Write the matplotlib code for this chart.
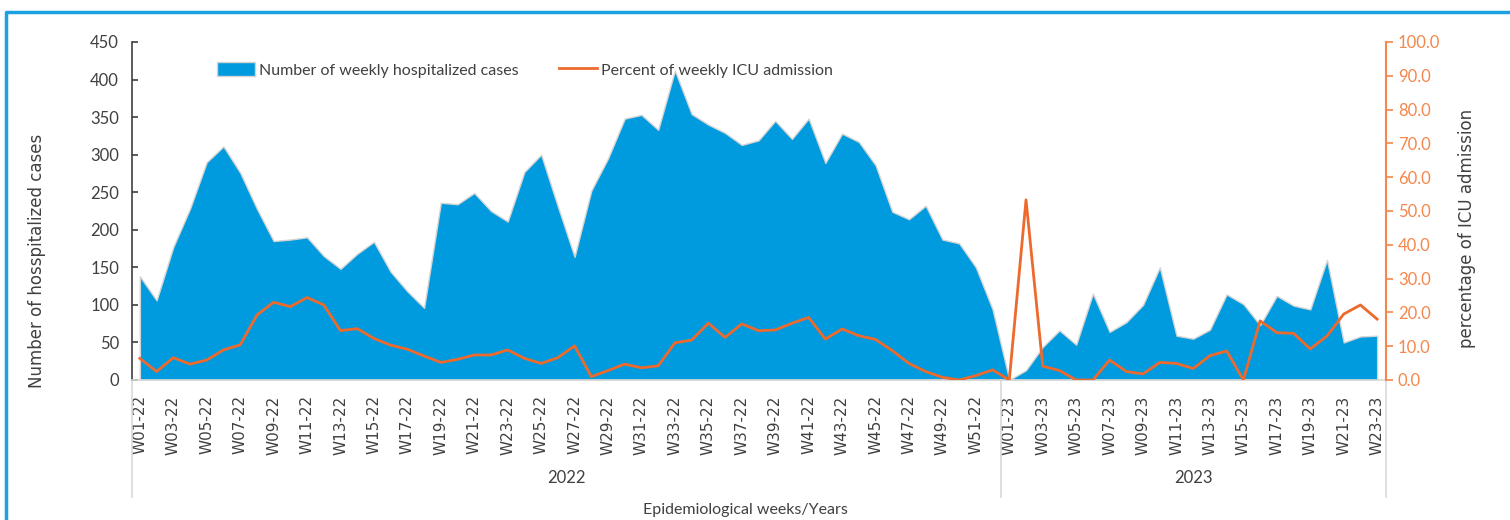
import matplotlib
matplotlib.use("Agg")
import matplotlib.pyplot as plt
import matplotlib.transforms as mtransforms
from matplotlib.lines import Line2D
from matplotlib.ticker import FormatStrFormatter
import numpy as np

# epidemiological weeks, 2022 (52) + 2023 (23)
years = ["2022", "2023"]
weeks_per_year = [52, 23]
week_labels = ([f"W{w:02d}-22" for w in range(1, 53)] +
               [f"W{w:02d}-23" for w in range(1, 24)])

hosp_2022 = [138, 106, 177, 228, 290, 311, 276, 228, 185, 187, 190, 165, 148,
             168, 184, 144, 118, 96, 236, 234, 249, 225, 211, 277, 300, 231,
             164, 252, 295, 348, 353, 333, 412, 354, 340, 329, 313, 319, 345,
             321, 348, 289, 328, 317, 286, 224, 214, 232, 187, 182, 150, 94]
hosp_2023 = [0, 13, 44, 66, 47, 115, 64, 77, 100, 150, 59, 55, 67, 114, 101,
             73, 112, 99, 94, 160, 50, 58, 59]

icu_2022 = [6.4, 2.5, 6.6, 4.7, 5.9, 8.9, 10.4, 19.2, 23.0, 21.7, 24.4, 22.2,
            14.6, 15.2, 12.3, 10.3, 9.1, 7.1, 5.2, 6.1, 7.4, 7.4, 8.9, 6.4,
            4.9, 6.6, 10.1, 1.0, 2.8, 4.7, 3.6, 4.2, 11.0, 11.8, 16.8, 12.6,
            16.6, 14.6, 14.8, 16.8, 18.5, 12.1, 15.1, 13.1, 12.0, 8.7, 4.9,
            2.5, 0.8, 0.0, 1.3, 3.0]
icu_2023 = [0.0, 53.3, 4.1, 2.8, 0.0, 0.0, 5.9, 2.5, 1.8, 5.2, 4.9, 3.4, 7.2,
            8.6, 0.0, 17.5, 14.0, 13.8, 9.2, 13.0, 19.5, 22.2, 18.0]

hosp = np.array(hosp_2022 + hosp_2023)
icu = np.array(icu_2022 + icu_2023)
x = np.arange(len(week_labels))

BLUE = "#009BDE"
ORANGE = "#EE6A2C"
AXIS_OR = "#F4874B"
GREY = "#404040"
NARROW = ["Lato", "DejaVu Sans"]

fig = plt.figure(figsize=(15.1, 5.2), dpi=100)
ax = fig.add_axes([131.5 / 1510, 140 / 520, 1254 / 1510, 338 / 520])
ax2 = ax.twinx()

ax.fill_between(x, hosp, 0, facecolor=BLUE, edgecolor="#d4d4d4", lw=1.0,
                label="Number of weekly hospitalized cases", zorder=2)
ax2.plot(x, icu, color=ORANGE, lw=2.0, label="Percent of weekly ICU admission",
         zorder=3)

ax.set_xlim(-0.5, len(x) - 0.5)
ax.set_ylim(0, 450)
ax.set_yticks(np.arange(0, 451, 50))
ax2.set_ylim(0, 100)
ax2.set_yticks(np.arange(0, 101, 10))
ax2.yaxis.set_major_formatter(FormatStrFormatter("%.1f"))

ax.set_xticks(x[::2])
ax.set_xticklabels(week_labels[::2], rotation=90, fontsize=11,
                   family="DejaVu Sans", color=GREY)
ax.tick_params(axis="x", length=0, pad=11)
ax.tick_params(axis="y", direction="in", length=4, width=1.2, colors=GREY,
               labelsize=12, pad=9)
for lab in ax.get_yticklabels():
    lab.set_family(NARROW)
ax2.tick_params(axis="y", direction="out", length=5, width=1.2,
                colors=AXIS_OR, labelsize=12, pad=4)
for lab in ax2.get_yticklabels():
    lab.set_family(NARROW)

for a in (ax, ax2):
    a.spines["top"].set_visible(False)
ax.spines["right"].set_visible(False)
ax2.spines["left"].set_visible(False)
ax2.spines["bottom"].set_visible(False)
ax.spines["left"].set_color(GREY)
ax.spines["left"].set_linewidth(1.2)
ax2.spines["right"].set_color(AXIS_OR)
ax2.spines["right"].set_linewidth(1.5)
ax.spines["bottom"].set_color("#d9d9d9")
ax.spines["bottom"].set_linewidth(1.2)

# year group separators and labels below the week labels
trans = mtransforms.blended_transform_factory(ax.transData, ax.transAxes)
edges = np.concatenate([[0], np.cumsum(weeks_per_year)]) - 0.5
for e in edges:
    ax.plot([e, e], [0, -0.346], transform=trans, color="#d9d9d9", lw=1.2,
            clip_on=False)
for yr, a0, a1 in zip(years, edges[:-1], edges[1:]):
    ax.text((a0 + a1) / 2, -0.29, yr, transform=trans, ha="center",
            va="center", fontsize=12, family=NARROW, color=GREY)

fig.text(745 / 1510, 1 - 510 / 520, "Epidemiological weeks/Years",
         ha="center", va="center", fontsize=11.5, family=NARROW, color=GREY)
fig.text(37 / 1510, 1 - 261 / 520, "Number of hosspitalized cases",
         rotation=90, ha="center", va="center", fontsize=12,
         family="DejaVu Sans", color=GREY)
fig.text(1467 / 1510, 1 - 228 / 520, "percentage of ICU admission",
         rotation=90, ha="center", va="center", fontsize=12,
         family="DejaVu Sans", color=GREY)

h1, l1 = ax.get_legend_handles_labels()
h2, l2 = ax2.get_legend_handles_labels()
leg = ax2.legend(h1 + h2, l1 + l2, ncol=2, frameon=False,
                 loc="upper left", bbox_to_anchor=(79 / 1254, 1 - 14 / 338),
                 prop={"family": NARROW, "size": 11.5}, handlelength=2.4,
                 handleheight=0.9, handletextpad=0.25, columnspacing=2.5,
                 borderaxespad=0)
for t in leg.get_texts():
    t.set_color(GREY)

# blue frame (left and top edges visible)
fig.add_artist(Line2D([5.5 / 1510, 5.5 / 1510, 1.0], [0.0, 1 - 12 / 520, 1 - 12 / 520],
                      transform=fig.transFigure, color="#1BA1E2", lw=2.5))

fig.savefig("out.png", dpi=100)
